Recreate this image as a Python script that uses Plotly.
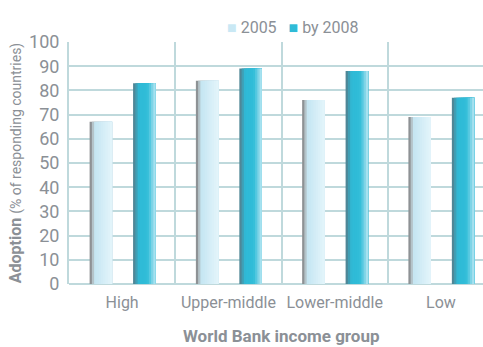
import plotly.graph_objects as go

# Data
groups = ["High", "Upper-middle", "Lower-middle", "Low"]
adoption_2005 = [67, 84, 76, 69]
adoption_2008 = [83, 89, 88, 77]
y_ticks = [0, 10, 20, 30, 40, 50, 60, 70, 80, 90, 100]

FONT = "Roboto, Liberation Sans, sans-serif"
GREY = "#8b9096"
GRID = "#bfd9dc"

BAR_W = 0.212
# horizontal colour strips (left -> right) used to shade each bar like a cylinder
light_strips = ["#8e9295", "#b4c4ca", "#c6e6f2", "#c9e8f4", "#cdeaf5",
                "#d2ecf6", "#d6eef7", "#daf0f8", "#def2f9", "#e2f4fa"]
dark_strips = ["#4f8797", "#3f9fb5", "#31b7d3", "#2fbbd7", "#2fbbd7",
               "#30bcd8", "#36bfd9", "#55c8e0", "#7ed4e7", "#a6e1ef"]

fig = go.Figure()


def add_shaded_bar(values, left_offset, strips, name):
    # each strip runs from its start to the bar's right edge; later strips
    # paint over earlier ones, so there are no seams between them
    n = len(strips)
    sw = BAR_W / n
    for i, c in enumerate(strips):
        fig.add_trace(go.Bar(
            x=groups, y=values, offset=left_offset + i * sw, width=BAR_W - i * sw,
            marker=dict(color=c, line=dict(width=0)),
            showlegend=False, hoverinfo="skip" if i else "y", name=name,
        ))


add_shaded_bar(adoption_2005, -0.306, light_strips, "2005")
add_shaded_bar(adoption_2008, 0.103, dark_strips, "by 2008")

fig.update_layout(
    width=483, height=347,
    margin=dict(l=69, r=0, t=42, b=63, autoexpand=False),
    barmode="overlay",
    plot_bgcolor="white", paper_bgcolor="white",
    font=dict(family=FONT, color=GREY),
    showlegend=False,
    xaxis=dict(
        range=[-0.5, 3.396], tickson="boundaries", showgrid=True,
        gridcolor=GRID, gridwidth=2, showline=False, ticks="",
        tickangle=0, automargin=False,
        tickfont=dict(size=16, color=GREY), ticklabelstandoff=7,
    ),
    yaxis=dict(
        range=[0, 100], tickvals=y_ticks, showgrid=True, gridcolor=GRID,
        gridwidth=2, zeroline=True, zerolinecolor=GRID, zerolinewidth=2,
        showline=True, linecolor=GRID, linewidth=2, ticks="",
        automargin=False,
        tickfont=dict(size=18, color=GREY), ticklabelstandoff=4,
        title=dict(
            text="<b>Adoption</b> <span style='font-size:14px'>(% of responding countries)</span>",
            font=dict(size=16, color=GREY), standoff=3,
        ),
    ),
    annotations=[
        dict(text="<b>World Bank income group</b>", xref="paper", yref="paper",
             x=(281.5 - 69) / 414, y=-0.215, xanchor="center", yanchor="middle",
             showarrow=False, font=dict(size=17, color=GREY)),
        dict(text="<span style='color:#c9e8f4'>■</span> 2005   "
                  "<span style='color:#2fbbd7'>■</span> by 2008",
             xref="paper", yref="paper", x=(293 - 69) / 414, y=1.06,
             xanchor="center", yanchor="middle", showarrow=False,
             font=dict(size=16, color=GREY)),
    ],
)

fig.write_html("out.html")
